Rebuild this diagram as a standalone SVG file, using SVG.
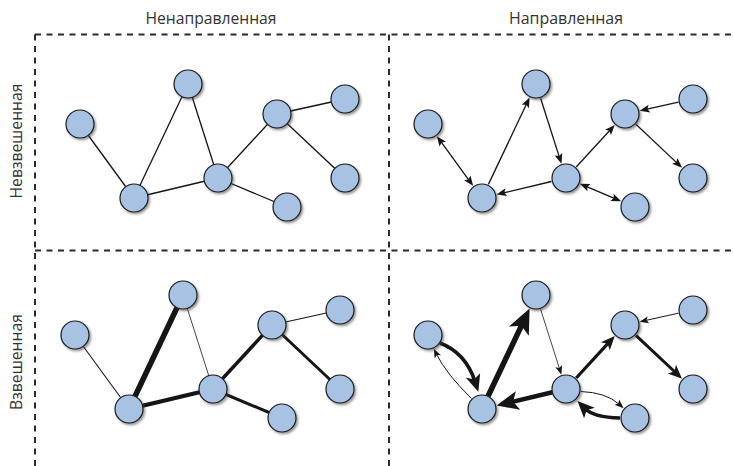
<svg xmlns="http://www.w3.org/2000/svg" width="733" height="466" viewBox="0 0 733 466">
  <style>
    .title { font-family: "Open Sans", "Noto Sans", "DejaVu Sans", sans-serif; font-size: 17px; fill: #333; }
    .grid { fill: none; stroke: #2b2b2b; stroke-width: 2; stroke-dasharray: 6 5.5; }
    .node circle { fill: #a8c2e4; stroke: #1a1a1a; stroke-width: 1.2; }
    .node { filter: url(#shadow); }
    .edge { fill: none; stroke: #151515; stroke-width: 1.3; }
    .head { fill: #151515; stroke: none; }
  </style>
  <defs>
    <filter id="shadow" x="-30%" y="-30%" width="170%" height="170%">
      <feDropShadow dx="1.6" dy="1.8" stdDeviation="0.9" flood-color="#404040" flood-opacity="0.55"/>
    </filter>
    <!-- notched arrowheads in several sizes; refX sits just past the notch -->
    <marker id="ah-t" markerUnits="userSpaceOnUse" orient="auto-start-reverse" markerWidth="12" markerHeight="10" refX="2.5" refY="0" overflow="visible">
      <path class="head" d="M0,-4 L10,0 L0,4 L2,0 Z"/>
    </marker>
    <marker id="ah-s" markerUnits="userSpaceOnUse" orient="auto-start-reverse" markerWidth="10" markerHeight="8" refX="3" refY="0" overflow="visible">
      <path class="head" d="M0,-3.5 L9,0 L0,3.5 L2,0 Z"/>
    </marker>
    <marker id="ah-m" markerUnits="userSpaceOnUse" orient="auto" markerWidth="15" markerHeight="13" refX="5" refY="0" overflow="visible">
      <path class="head" d="M0,-6 L14,0 L0,6 L3.5,0 Z"/>
    </marker>
    <marker id="ah-l" markerUnits="userSpaceOnUse" orient="auto" markerWidth="18" markerHeight="16" refX="6" refY="0" overflow="visible">
      <path class="head" d="M0,-7.5 L17,0 L0,7.5 L4,0 Z"/>
    </marker>
    <marker id="ah-xl" markerUnits="userSpaceOnUse" orient="auto" markerWidth="23" markerHeight="20" refX="7" refY="0" overflow="visible">
      <path class="head" d="M0,-9.5 L22,0 L0,9.5 L5,0 Z"/>
    </marker>
    <marker id="ah-xxl" markerUnits="userSpaceOnUse" orient="auto" markerWidth="26" markerHeight="23" refX="8" refY="0" overflow="visible">
      <path class="head" d="M0,-11 L25,0 L0,11 L6,0 Z"/>
    </marker>
  </defs>

  <rect width="733" height="466" fill="#ffffff"/>

  <!-- headings -->
  <g id="headings">
    <text class="title" x="211" y="23.5" text-anchor="middle" textLength="131" lengthAdjust="spacingAndGlyphs">Ненаправленная</text>
    <text class="title" x="566" y="23.5" text-anchor="middle" textLength="114" lengthAdjust="spacingAndGlyphs">Направленная</text>
    <text class="title" transform="translate(21.5,141) rotate(-90)" text-anchor="middle" textLength="115" lengthAdjust="spacingAndGlyphs">Невзвешенная</text>
    <text class="title" transform="translate(21.5,362) rotate(-90)" text-anchor="middle" textLength="96" lengthAdjust="spacingAndGlyphs">Взвешенная</text>
  </g>

  <!-- dashed quadrant grid -->
  <g id="grid">
    <path class="grid" d="M35,34.5 H733"/>
    <path class="grid" d="M35,34.5 V466"/>
    <path class="grid" d="M389,34.5 V466"/>
    <path class="grid" d="M35,250.5 H733"/>
  </g>

  <g id="connectors">
    <!-- undirected, unweighted -->
    <g id="edges-ul" class="edge">
      <line x1="80" y1="124" x2="134" y2="198"/>
      <line x1="134" y1="198" x2="188" y2="84"/>
      <line x1="188" y1="84" x2="218" y2="178"/>
      <line x1="134" y1="198" x2="218" y2="178"/>
      <line x1="218" y1="178" x2="277" y2="114"/>
      <line x1="277" y1="114" x2="345" y2="99"/>
      <line x1="277" y1="114" x2="345" y2="178"/>
      <line x1="218" y1="178" x2="287" y2="207"/>
    </g>
    <!-- directed, unweighted -->
    <g id="edges-ur" class="edge">
      <line x1="441.3" y1="142.2" x2="468.7" y2="179.8" marker-start="url(#ah-t)" marker-end="url(#ah-t)"/>
      <line x1="488.4" y1="184.4" x2="526.4" y2="104.3" marker-end="url(#ah-t)"/>
      <line x1="540.6" y1="98.3" x2="559.2" y2="156.6" marker-end="url(#ah-t)"/>
      <line x1="551.4" y1="181.5" x2="503.9" y2="192.8" marker-end="url(#ah-t)"/>
      <line x1="576.2" y1="167.0" x2="609.7" y2="130.5" marker-end="url(#ah-t)"/>
      <line x1="678.4" y1="102.2" x2="647.0" y2="109.2" marker-end="url(#ah-t)"/>
      <line x1="635.9" y1="124.3" x2="676.6" y2="162.6" marker-end="url(#ah-t)"/>
      <line x1="586.7" y1="186.7" x2="614.3" y2="198.3" marker-start="url(#ah-t)" marker-end="url(#ah-t)"/>
    </g>
    <!-- undirected, weighted -->
    <g id="edges-ll" class="edge">
      <line x1="75" y1="335" x2="129" y2="409" stroke-width="1.1"/>
      <line x1="129" y1="409" x2="183" y2="295" stroke-width="5.5"/>
      <line x1="183" y1="295" x2="213" y2="389" stroke-width="0.8"/>
      <line x1="129" y1="409" x2="213" y2="389" stroke-width="4.2"/>
      <line x1="213" y1="389" x2="272" y2="325" stroke-width="3.5"/>
      <line x1="272" y1="325" x2="340" y2="310" stroke-width="1.1"/>
      <line x1="272" y1="325" x2="340" y2="389" stroke-width="3"/>
      <line x1="213" y1="389" x2="282" y2="418" stroke-width="3"/>
    </g>
    <!-- directed, weighted -->
    <g id="edges-lr" class="edge">
      <path d="M440,343 Q465.5,352.7 474.9,381.2" stroke-width="3.5" marker-end="url(#ah-l)"/>
      <path d="M471.5,398.5 Q446.3,373.9 436.5,354.2" stroke-width="1" marker-end="url(#ah-s)"/>
      <line x1="488.0" y1="396.3" x2="522.3" y2="323.9" stroke-width="5.5" marker-end="url(#ah-xxl)"/>
      <line x1="540.6" y1="309.3" x2="559.6" y2="369.0" stroke-width="0.8" marker-end="url(#ah-s)"/>
      <line x1="552.4" y1="392.2" x2="511.2" y2="402.1" stroke-width="4.5" marker-end="url(#ah-xl)"/>
      <line x1="576.2" y1="378.0" x2="608.7" y2="342.6" stroke-width="3.2" marker-end="url(#ah-m)"/>
      <line x1="678.4" y1="313.2" x2="645.5" y2="320.5" stroke-width="1" marker-end="url(#ah-s)"/>
      <line x1="635.9" y1="335.3" x2="675.5" y2="372.5" stroke-width="3" marker-end="url(#ah-m)"/>
      <path d="M580.8,391.5 Q605.6,392.3 619.1,404.2" stroke-width="1" marker-end="url(#ah-s)"/>
      <path d="M620,418 Q593.6,417.3 585.2,408.8" stroke-width="3.5" marker-end="url(#ah-l)"/>
    </g>
  </g>

  <!-- nodes: undirected, unweighted -->
  <g id="ul-a" class="node"><circle cx="80" cy="124" r="14"/></g>
  <g id="ul-b" class="node"><circle cx="134" cy="198" r="14"/></g>
  <g id="ul-c" class="node"><circle cx="188" cy="84" r="14"/></g>
  <g id="ul-d" class="node"><circle cx="218" cy="178" r="14"/></g>
  <g id="ul-e" class="node"><circle cx="277" cy="114" r="14"/></g>
  <g id="ul-f" class="node"><circle cx="345" cy="99" r="14"/></g>
  <g id="ul-g" class="node"><circle cx="345" cy="178" r="14"/></g>
  <g id="ul-h" class="node"><circle cx="287" cy="207" r="14"/></g>

  <!-- nodes: directed, unweighted -->
  <g id="ur-a" class="node"><circle cx="428" cy="124" r="14"/></g>
  <g id="ur-b" class="node"><circle cx="482" cy="198" r="14"/></g>
  <g id="ur-c" class="node"><circle cx="536" cy="84" r="14"/></g>
  <g id="ur-d" class="node"><circle cx="566" cy="178" r="14"/></g>
  <g id="ur-e" class="node"><circle cx="625" cy="114" r="14"/></g>
  <g id="ur-f" class="node"><circle cx="693" cy="99" r="14"/></g>
  <g id="ur-g" class="node"><circle cx="693" cy="178" r="14"/></g>
  <g id="ur-h" class="node"><circle cx="635" cy="207" r="14"/></g>

  <!-- nodes: undirected, weighted -->
  <g id="ll-a" class="node"><circle cx="75" cy="335" r="14"/></g>
  <g id="ll-b" class="node"><circle cx="129" cy="409" r="14"/></g>
  <g id="ll-c" class="node"><circle cx="183" cy="295" r="14"/></g>
  <g id="ll-d" class="node"><circle cx="213" cy="389" r="14"/></g>
  <g id="ll-e" class="node"><circle cx="272" cy="325" r="14"/></g>
  <g id="ll-f" class="node"><circle cx="340" cy="310" r="14"/></g>
  <g id="ll-g" class="node"><circle cx="340" cy="389" r="14"/></g>
  <g id="ll-h" class="node"><circle cx="282" cy="418" r="14"/></g>

  <!-- nodes: directed, weighted -->
  <g id="lr-a" class="node"><circle cx="428" cy="335" r="14"/></g>
  <g id="lr-b" class="node"><circle cx="482" cy="409" r="14"/></g>
  <g id="lr-c" class="node"><circle cx="536" cy="295" r="14"/></g>
  <g id="lr-d" class="node"><circle cx="566" cy="389" r="14"/></g>
  <g id="lr-e" class="node"><circle cx="625" cy="325" r="14"/></g>
  <g id="lr-f" class="node"><circle cx="693" cy="310" r="14"/></g>
  <g id="lr-g" class="node"><circle cx="693" cy="389" r="14"/></g>
  <g id="lr-h" class="node"><circle cx="635" cy="418" r="14"/></g>
</svg>
